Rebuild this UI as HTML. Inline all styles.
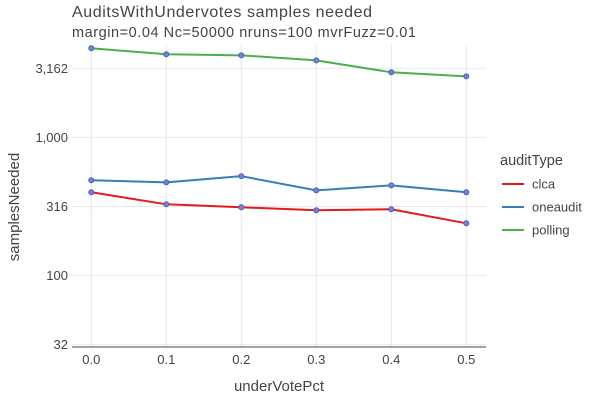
<!DOCTYPE html>
<html><head><meta charset="utf-8"><style>
body{margin:0;background:#fff;}
svg{display:block;font-family:"Liberation Sans",sans-serif;}
</style></head><body>
<svg id="chart" width="600" height="400">
<text x="72" y="17" font-size="16" fill="#444" textLength="300">AuditsWithUndervotes samples needed</text>
<text x="72" y="37" font-size="14.5" fill="#444" textLength="344">margin=0.04 Nc=50000 nruns=100 mvrFuzz=0.01</text>
<g id="grid"></g>
<line x1="72" y1="347" x2="486" y2="347" stroke="#444" stroke-width="1"/>
<g id="series"></g>
<text x="279" y="391" font-size="15" fill="#444" text-anchor="middle">underVotePct</text>
<text transform="translate(19,207) rotate(-90)" font-size="15" fill="#444" text-anchor="middle">samplesNeeded</text>
<g id="legend">
<text x="500" y="165" font-size="14.5" fill="#444">auditType</text>
</g>
</svg>
<script>
const categories=[0,0.1,0.2,0.3,0.4,0.5];
const seriesNames=["clca","oneaudit","polling"];
const clca=[401,328,312,297,302,239];
const oneaudit=[490,473,524,414,450,401];
const polling=[4418,3993,3926,3611,2958,2767];
const xTicks=[0,0.1,0.2,0.3,0.4,0.5];
const xTickLabels=["0.0","0.1","0.2","0.3","0.4","0.5"];
const yTicks=[31.62,100,316.2,1000,3162];
const yTickLabels=["32","100","316","1,000","3,162"];

const NS="http://www.w3.org/2000/svg";
function xs(v){return 91.3+v*750;}
function ys(v){return 344.7-(Math.log10(v)-1.5)*138.2;}
function mk(tag,attrs,parent){const e=document.createElementNS(NS,tag);for(const k in attrs)e.setAttribute(k,attrs[k]);parent.appendChild(e);return e;}
const grid=document.getElementById('grid');
xTicks.forEach((t,i)=>{
  const l=mk('line',{x1:xs(t),x2:xs(t),y1:45,y2:347,stroke:'#e8e8e8','stroke-width':1},grid);
  
  
  const tx=mk('text',{x:xs(t),y:364,'font-size':13,fill:'#444','text-anchor':'middle'},grid);
  tx.textContent=xTickLabels[i];
  
  
});
yTicks.forEach((t,i)=>{
  const l=mk('line',{x1:72,x2:486,y1:ys(t),y2:ys(t),stroke:'#e8e8e8','stroke-width':1},grid);
  
  
  const tx=mk('text',{x:68,y:ys(t)+4.5,'font-size':13,fill:'#444','text-anchor':'end'},grid);
  tx.textContent=yTickLabels[i];
  
  
});
const colors=["#e41a1c","#377eb8","#4daf4a"];
const data=[clca,oneaudit,polling];
const sg=document.getElementById('series');
data.forEach((arr,si)=>{
  const pts=arr.map((v,i)=>xs(categories[i])+','+ys(v)).join(' ');
  const pl=mk('polyline',{points:pts,fill:'none',stroke:colors[si],'stroke-width':2},sg);
  
  
});
data.forEach((arr,si)=>{
  arr.forEach((v,i)=>{
    const c=mk('circle',{cx:xs(categories[i]),cy:ys(v),r:2.5,fill:'#7f7fd0',stroke:'#3a5fcd','stroke-width':1},sg);
    
    
  });
});
const lg=document.getElementById('legend');
seriesNames.forEach((n,i)=>{
  const y=184+i*23;
  const l=mk('line',{x1:502,x2:524,y1:y,y2:y,stroke:colors[i],'stroke-width':2},lg);
  
  
  const t=mk('text',{x:532,y:y+4.5,'font-size':13,fill:'#444'},lg);
  t.textContent=n;
  
  
});
</script>
</body></html>
